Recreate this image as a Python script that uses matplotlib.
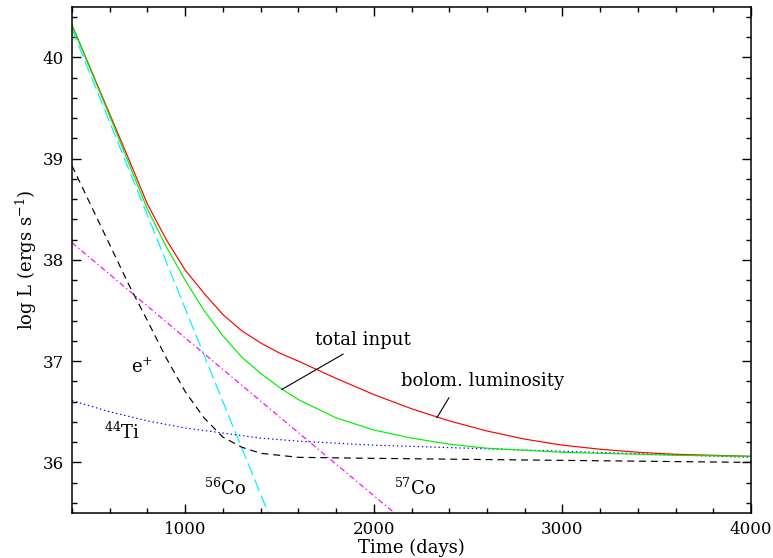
import matplotlib
matplotlib.use("Agg")
import matplotlib.pyplot as plt
from matplotlib.ticker import MultipleLocator

plt.rcParams['font.family'] = ['DejaVu Serif']
plt.rcParams['mathtext.fontset'] = 'dejavuserif'
plt.rcParams['lines.scale_dashes'] = False

# ---- data ----
t_bol = [400, 500, 600, 700, 800, 900, 1000, 1100, 1200, 1300, 1400, 1500, 1600,
         1800, 2000, 2200, 2400, 2600, 2800, 3000, 3200, 3400, 3600, 3800, 4000]
bolom = [40.32, 39.88, 39.44, 39.00, 38.55, 38.20, 37.90, 37.67, 37.46, 37.30, 37.18, 37.08, 37.00,
         36.83, 36.67, 36.53, 36.41, 36.31, 36.23, 36.17, 36.13, 36.10, 36.08, 36.07, 36.06]

t_tot = [400, 500, 600, 700, 800, 900, 1000, 1100, 1200, 1300, 1400, 1500, 1600,
         1800, 2000, 2200, 2400, 2600, 2800, 3000, 3200, 3400, 3600, 3800, 4000]
total = [40.32, 39.87, 39.42, 38.96, 38.50, 38.13, 37.80, 37.50, 37.25, 37.04, 36.88, 36.74, 36.62,
         36.44, 36.32, 36.24, 36.18, 36.14, 36.12, 36.10, 36.09, 36.08, 36.07, 36.065, 36.06]

t_co56 = [400, 800, 1000, 1200, 1500]
co56 = [40.28, 38.44, 37.52, 36.60, 35.23]

t_co57 = [400, 1000, 1500, 2200]
co57 = [38.17, 37.23, 36.45, 35.36]

t_ti44 = [400, 600, 800, 1000, 1200, 1400, 1600, 2000, 2500, 3000, 3500, 4000]
ti44 = [36.61, 36.50, 36.41, 36.34, 36.29, 36.24, 36.21, 36.17, 36.14, 36.11, 36.08, 36.05]

t_pos = [400, 500, 600, 700, 800, 900, 1000, 1100, 1200, 1300, 1400, 1500, 1600,
         2000, 2500, 3000, 3500, 4000]
posit = [38.93, 38.54, 38.15, 37.76, 37.40, 37.03, 36.70, 36.44, 36.25, 36.15, 36.09, 36.07, 36.05,
         36.04, 36.03, 36.02, 36.01, 36.00]

xlim = (400, 4000)
ylim = (35.5, 40.5)

fig = plt.figure(figsize=(7.73, 5.58), dpi=100)
ax = fig.add_axes([0.0931, 0.0806, 0.8785, 0.9074])

lw = 0.85
ax.plot(t_co56, co56, color='#00eeff', lw=lw, dashes=(9, 3.5))
ax.plot(t_co57, co57, color='#ff00ff', lw=lw, dashes=(4, 2, 1, 2))
ax.plot(t_ti44, ti44, color='#0000ff', lw=lw, dashes=(1, 2))
ax.plot(t_pos, posit, color='black', lw=lw, dashes=(5, 3.5))
ax.plot(t_bol, bolom, color='#ff0000', lw=lw)
ax.plot(t_tot, total, color='#00f000', lw=lw)

fs = 13
ax.annotate('', xy=(1512, 36.72), xytext=(1838, 37.07),
            arrowprops=dict(arrowstyle='-', lw=0.8, color='black', shrinkA=0, shrinkB=0))
ax.text(1943, 37.21, 'total input', fontsize=fs, ha='center', va='center')
ax.annotate('', xy=(2334, 36.44), xytext=(2399, 36.64),
            arrowprops=dict(arrowstyle='-', lw=0.8, color='black', shrinkA=0, shrinkB=0))
ax.text(2579, 36.80, 'bolom. luminosity', fontsize=fs, ha='center', va='center')
ax.text(770, 36.94, r'e$^{+}$', fontsize=fs, ha='center', va='center')
ax.text(665, 36.30, r'$^{44}$Ti', fontsize=fs, ha='center', va='center')
ax.text(1211, 35.75, r'$^{56}$Co', fontsize=fs, ha='center', va='center')
ax.text(2219, 35.75, r'$^{57}$Co', fontsize=fs, ha='center', va='center')

ax.set_xlim(*xlim)
ax.set_ylim(*ylim)
ax.xaxis.set_major_locator(MultipleLocator(1000))
ax.xaxis.set_minor_locator(MultipleLocator(200))
ax.yaxis.set_major_locator(MultipleLocator(1))
ax.yaxis.set_minor_locator(MultipleLocator(0.2))
ax.tick_params(which='both', direction='in', top=True, right=True, width=1.0, labelsize=12)
ax.tick_params(which='major', length=6.5, pad=6)
ax.tick_params(which='minor', length=3.5)
for s in ax.spines.values():
    s.set_linewidth(1.1)

ax.set_xlabel('Time (days)', fontsize=fs, labelpad=0)
ax.set_ylabel(r'log L (ergs s$^{-1}$)', fontsize=fs)
ax.yaxis.set_label_coords(-0.048, 0.5)

fig.savefig('out.png', dpi=100)
